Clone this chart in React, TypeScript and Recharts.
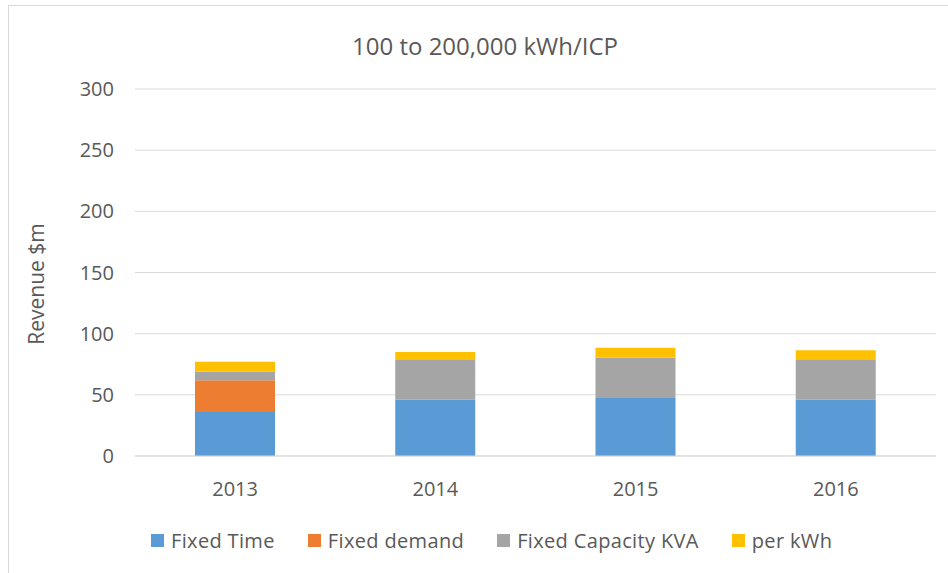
import { BarChart, Bar, XAxis, YAxis, CartesianGrid, Legend, Label } from "recharts"

const years = ["2013", "2014", "2015", "2016"]
const fixedTime = [36, 46, 47.5, 46]
const fixedDemand = [26, 0, 0, 0]
const fixedCapacity = [7, 32.5, 33, 32.5]
const perKwh = [8, 6.5, 8, 8]
const yTicks = [0, 50, 100, 150, 200, 250, 300]

const series = [
  { key: "fixedTime", name: "Fixed Time", color: "#5B9BD5" },
  { key: "fixedDemand", name: "Fixed demand", color: "#ED7D31" },
  { key: "fixedCapacity", name: "Fixed Capacity KVA", color: "#A5A5A5" },
  { key: "perKwh", name: "per kWh", color: "#FFC000" },
]

const data = years.map((year, i) => ({
  year,
  fixedTime: fixedTime[i],
  fixedDemand: fixedDemand[i],
  fixedCapacity: fixedCapacity[i],
  perKwh: perKwh[i],
}))

const font = "'Open Sans', sans-serif"
const textColor = "#595959"

function LegendContent() {
  return (
    <div style={{ display: "flex", alignItems: "center", height: 40, paddingLeft: 151, fontFamily: font, fontSize: 20, letterSpacing: 0.35, color: textColor }}>
      {series.map((s) => (
        <div key={s.key} style={{ display: "flex", alignItems: "center", marginRight: 33 }}>
          <span style={{ display: "inline-block", width: 13, height: 13, background: s.color, marginRight: 7 }} />
          <span>{s.name}</span>
        </div>
      ))}
    </div>
  )
}

export default function App() {
  return (
    <div style={{ position: "absolute", left: 0, top: 0, width: 948, height: 573, background: "#fff" }}>
      <div style={{ position: "absolute", left: 8, top: 5, width: 960, height: 600, borderLeft: "1px solid #d9d9d9", borderTop: "1px solid #d9d9d9" }} />
      <div style={{ position: "absolute", left: 0, top: 29, width: 970, textAlign: "center", fontFamily: font, fontSize: 24, color: textColor }}>
        100 to 200,000 kWh/ICP
      </div>
      <BarChart
        width={948}
        height={573}
        data={data}
        barSize={80}
        margin={{ top: 89, right: 12, left: 0, bottom: 13 }}
        style={{ position: "absolute", left: 0, top: 0 }}
      >
        <CartesianGrid stroke="#d9d9d9" vertical={false} />
        <XAxis
          dataKey="year"
          height={64}
          tickSize={0}
          tickMargin={26}
          axisLine={{ stroke: "#d9d9d9" }}
          tick={{ fill: textColor, fontSize: 20, fontFamily: font }}
        />
        <YAxis
          width={135}
          domain={[0, 300]}
          ticks={yTicks}
          tickSize={0}
          tickMargin={21}
          axisLine={false}
          tick={{ fill: textColor, fontSize: 20, fontFamily: font }}
        >
          <Label
            content={() => (
              <text x={44} y={284} transform="rotate(-90 44 284)" textAnchor="middle" fill={textColor} fontSize={21} fontFamily={font}>
                Revenue $m
              </text>
            )}
          />
        </YAxis>
        <Legend verticalAlign="bottom" height={40} content={<LegendContent />} />
        {series.map((s) => (
          <Bar key={s.key} dataKey={s.key} name={s.name} stackId="a" fill={s.color} isAnimationActive={false} />
        ))}
      </BarChart>
    </div>
  )
}
